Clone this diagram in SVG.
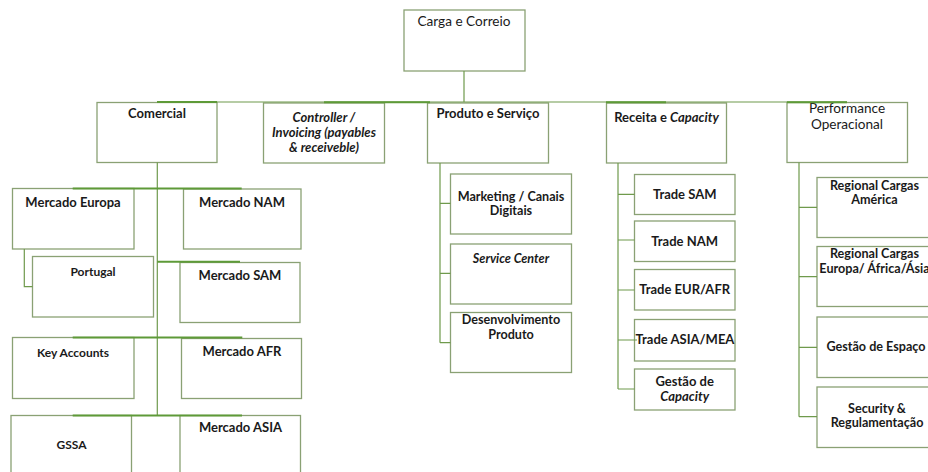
<svg xmlns="http://www.w3.org/2000/svg" width="928" height="472" viewBox="0 0 928 472">
<style>
.bg{fill:#ffffff}
.box{fill:#ffffff;stroke:#8aa174;stroke-width:1.3}
.conn{fill:none;stroke:#6f9a4c;stroke-width:1.2}
.acc{fill:none;stroke:#5e9a38;stroke-width:2}
text{font-family:Lato,"Liberation Sans",sans-serif;fill:#1a1a1a;text-anchor:middle}
.h{font-size:13px;font-weight:bold}
.n{font-size:13.6px;font-weight:normal}
.s{font-size:12px;font-weight:bold}
.p{font-size:12.6px;font-weight:bold}
.m{font-size:13px;font-weight:bold}
.i{font-style:italic}
</style>
<rect class="bg" x="0" y="0" width="928" height="472"/>

<g id="carga"><rect class="box" x="404" y="10" width="121" height="61"/><text class="n" x="464" y="26">Carga e Correio</text></g>

<g id="comercial"><rect class="box" x="97" y="102.5" width="120" height="60"/><text class="h" x="157" y="118">Comercial</text></g>
<g id="controller"><rect class="box" x="263.5" y="103" width="121" height="60"/>
<text class="h i" x="324" y="122">Controller /</text><text class="h i" x="324" y="137">Invoicing (payables</text><text class="h i" x="324" y="152">&amp; receiveble)</text></g>
<g id="produto"><rect class="box" x="427.5" y="103" width="121" height="60"/><text class="h" x="488" y="118">Produto e Serviço</text></g>
<g id="receita"><rect class="box" x="606.5" y="103" width="120" height="60"/><text class="h" x="666.5" y="122">Receita e <tspan class="i">Capacity</tspan></text></g>
<g id="performance"><rect class="box" x="787" y="102.5" width="120.5" height="60"/><text class="n" x="847" y="113">Performance</text><text class="n" x="847" y="129">Operacional</text></g>

<g id="mercado-europa"><rect class="box" x="12.5" y="188.5" width="121.5" height="60.5"/><text class="h" x="73" y="207">Mercado Europa</text></g>
<g id="mercado-nam"><rect class="box" x="183.5" y="189" width="117.5" height="60"/><text class="h" x="242" y="207">Mercado NAM</text></g>
<g id="portugal"><rect class="box" x="32.5" y="256.5" width="121" height="60.5"/><text class="s" x="93" y="275.5">Portugal</text></g>
<g id="mercado-sam"><rect class="box" x="180" y="262.5" width="120" height="60"/><text class="h" x="240" y="280">Mercado SAM</text></g>
<g id="key-accounts"><rect class="box" x="12.5" y="337.5" width="121.5" height="61"/><text class="s" x="73" y="357">Key Accounts</text></g>
<g id="mercado-afr"><rect class="box" x="181.5" y="338.5" width="120" height="60"/><text class="h" x="242" y="356">Mercado AFR</text></g>
<g id="gssa"><rect class="box" x="11" y="415.5" width="120.5" height="62"/><text class="s" x="71.5" y="449">GSSA</text></g>
<g id="mercado-asia"><rect class="box" x="180" y="415.5" width="120.5" height="62"/><text class="h" x="240.5" y="431.5">Mercado ASIA</text></g>

<g id="marketing"><rect class="box" x="450.5" y="174" width="121" height="60"/><text class="p" x="511" y="201">Marketing / Canais</text><text class="p" x="511" y="215">Digitais</text></g>
<g id="service-center"><rect class="box" x="450.5" y="244" width="121" height="60"/><text class="p i" x="511" y="263">Service Center</text></g>
<g id="desenvolvimento"><rect class="box" x="450.5" y="312.5" width="121" height="60"/><text class="p" x="511" y="324">Desenvolvimento</text><text class="p" x="511" y="338.5">Produto</text></g>

<g id="trade-sam"><rect class="box" x="634.5" y="174.5" width="100.5" height="40"/><text class="m" x="684.7" y="199">Trade SAM</text></g>
<g id="trade-nam"><rect class="box" x="634.5" y="221" width="100.5" height="40.5"/><text class="m" x="684.7" y="245.5">Trade NAM</text></g>
<g id="trade-eur-afr"><rect class="box" x="634.5" y="269.5" width="100.5" height="40.5"/><text class="m" x="684.7" y="294">Trade EUR/AFR</text></g>
<g id="trade-asia-mea"><rect class="box" x="634.5" y="319.5" width="100.5" height="41.5"/><text class="m" x="685" y="344">Trade ASIA/MEA</text></g>
<g id="gestao-capacity"><rect class="box" x="634.5" y="369" width="100.5" height="41"/><text class="m" x="684.7" y="386">Gestão de</text><text class="m i" x="684.7" y="400.5">Capacity</text></g>

<g id="regional-america"><rect class="box" x="817" y="177.5" width="120" height="60"/><text class="p" x="874.5" y="189.5">Regional Cargas</text><text class="p" x="874.5" y="204">América</text></g>
<g id="regional-europa"><rect class="box" x="817" y="246.5" width="120" height="60"/><text class="p" x="874.5" y="257.5">Regional Cargas</text><text class="p" x="874.5" y="272.5">Europa/ África/Ásia</text></g>
<g id="gestao-espaco"><rect class="box" x="817" y="317" width="120" height="60.5"/><text class="p" x="876" y="351">Gestão de Espaço</text></g>
<g id="security"><rect class="box" x="817" y="387" width="120" height="60.5"/><text class="p" x="877" y="412.5">Security &amp;</text><text class="p" x="877" y="427">Regulamentação</text></g>

<g id="connectors">
<path class="conn" d="M464 71V102M157 102H847"/>
<path class="acc" d="M157 102H217M324 102.2H430M606 102.2H666M787 102.2H847"/>
<path class="conn" d="M157.3 162.5V415.5"/>
<path class="acc" d="M72.7 188.5H241.7M157.3 261.7H240M72.7 337.5H242.3M72.7 415.5H242"/>
<path class="conn" d="M24.3 249V286.7H32.5"/>
<path class="conn" d="M440 163V342.7M440 203.3H450.5M440 273.3H450.5M440 342.7H450.5"/>
<path class="conn" d="M618 163V389M618 194.3H634.5M618 240H634.5M618 290H634.5M618 340H637M618 389H634.5"/>
<path class="conn" d="M799 162.5V416.7M799 207.3H817M799 276.7H817M799 347.3H817M799 416.7H817"/>
</g>
</svg>
